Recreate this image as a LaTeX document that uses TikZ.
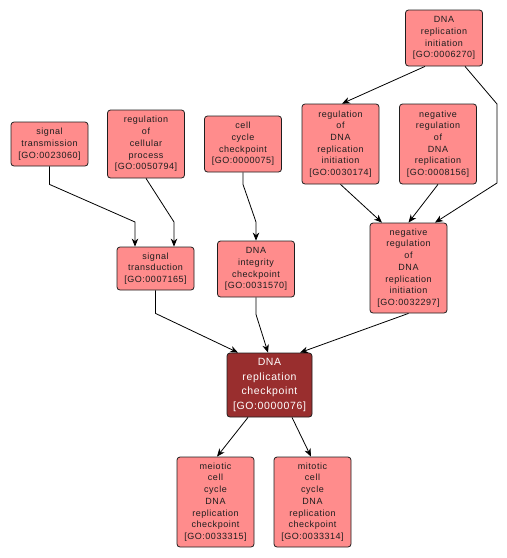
\documentclass[tikz,border=0pt]{standalone}
\usepackage{fontspec}
\usepackage{xcolor}
\usetikzlibrary{arrows.meta,calc}
\newfontfamily\gofont[LetterSpace=6]{Liberation Sans}
\definecolor{goink}{HTML}{1E1E1E}
\definecolor{gosalmon}{HTML}{FF8C8C}
\definecolor{gored}{HTML}{992E2E}

\begin{document}
\begin{tikzpicture}[
 x=1pt,y=-1pt,
 every node/.style={align=center,font=\gofont\fontsize{9}{11.7}\selectfont,text=goink},
 gobox/.style={draw=goink,fill=gosalmon,rounded corners=3pt,line width=.8pt,
 minimum width=77pt,inner sep=2pt},
 gofocus/.style={gobox,fill=gored,text=white,minimum width=85pt,
 font=\gofont\fontsize{10.5}{14.8}\selectfont},
 goedge/.style={-{Stealth[length=8pt,width=6.5pt,inset=2.5pt]},draw=black,line width=.8pt}]
\useasboundingbox (0,0) rectangle (507,558);
\node[gobox,minimum height=44pt] (st) at (49.5,144) {signal\\transmission\\{[GO:0023060]}};
\node[gobox,minimum height=68pt] (rcp) at (146,144) {regulation\\of\\cellular\\process\\{[GO:0050794]}};
\node[gobox,minimum height=56pt] (ccc) at (243,144) {cell\\cycle\\checkpoint\\{[GO:0000075]}};
\node[gobox,minimum height=56pt] (dri) at (444,38) {DNA\\replication\\initiation\\{[GO:0006270]}};
\node[gobox,minimum height=80pt] (rdri) at (340.5,144) {regulation\\of\\DNA\\replication\\initiation\\{[GO:0030174]}};
\node[gobox,minimum height=80pt] (nrdr) at (438,144) {negative\\regulation\\of\\DNA\\replication\\{[GO:0008156]}};
\node[gobox,minimum height=90pt] (nrri) at (408.5,268) {negative\\regulation\\of\\DNA\\replication\\initiation\\{[GO:0032297]}};
\node[gobox,minimum height=43pt] (sd) at (155.5,268.5) {signal\\transduction\\{[GO:0007165]}};
\node[gobox,minimum height=56pt] (dic) at (256,269) {DNA\\integrity\\checkpoint\\{[GO:0031570]}};
\node[gofocus,minimum height=64pt] (drc) at (269.5,385) {DNA\\replication\\checkpoint\\{[GO:0000076]}};
\node[gobox,minimum height=90pt] (mei) at (215.5,502) {meiotic\\cell\\cycle\\DNA\\replication\\checkpoint\\{[GO:0033315]}};
\node[gobox,minimum height=90pt] (mit) at (312.5,502) {mitotic\\cell\\cycle\\DNA\\replication\\checkpoint\\{[GO:0033314]}};
% is_a links, drawn into the child term
\draw[goedge] (st.south) -- ++(0,18) -- (135,222) -- (135,0 |- sd.north);
\draw[goedge] (rcp.south) -- (174,222) -- (174,0 |- sd.north);
\draw[goedge] (ccc.south) -- ++(0,12) -- (256,222) -- (dic.north);
\draw[goedge] (sd.south) -- ++(0,23) -- (238,0 |- drc.north);
\draw[goedge] (dic.south) -- ++(0,17) -- (268,0 |- drc.north);
\draw[goedge] (nrri.south) -- (300,0 |- drc.north);
\draw[goedge] (425,0 |- dri.south) -- (342,0 |- rdri.north);
\draw[goedge] (465,0 |- dri.south) -- (497,104) -- (497,183) -- (435,0 |- nrri.north);
\draw[goedge] (rdri.south) -- (382,0 |- nrri.north);
\draw[goedge] (nrdr.south) -- (nrri.north);
\draw[goedge] (248,0 |- drc.south) -- (217,0 |- mei.north);
\draw[goedge] (292,0 |- drc.south) -- (311,0 |- mit.north);
\end{tikzpicture}
\end{document}
